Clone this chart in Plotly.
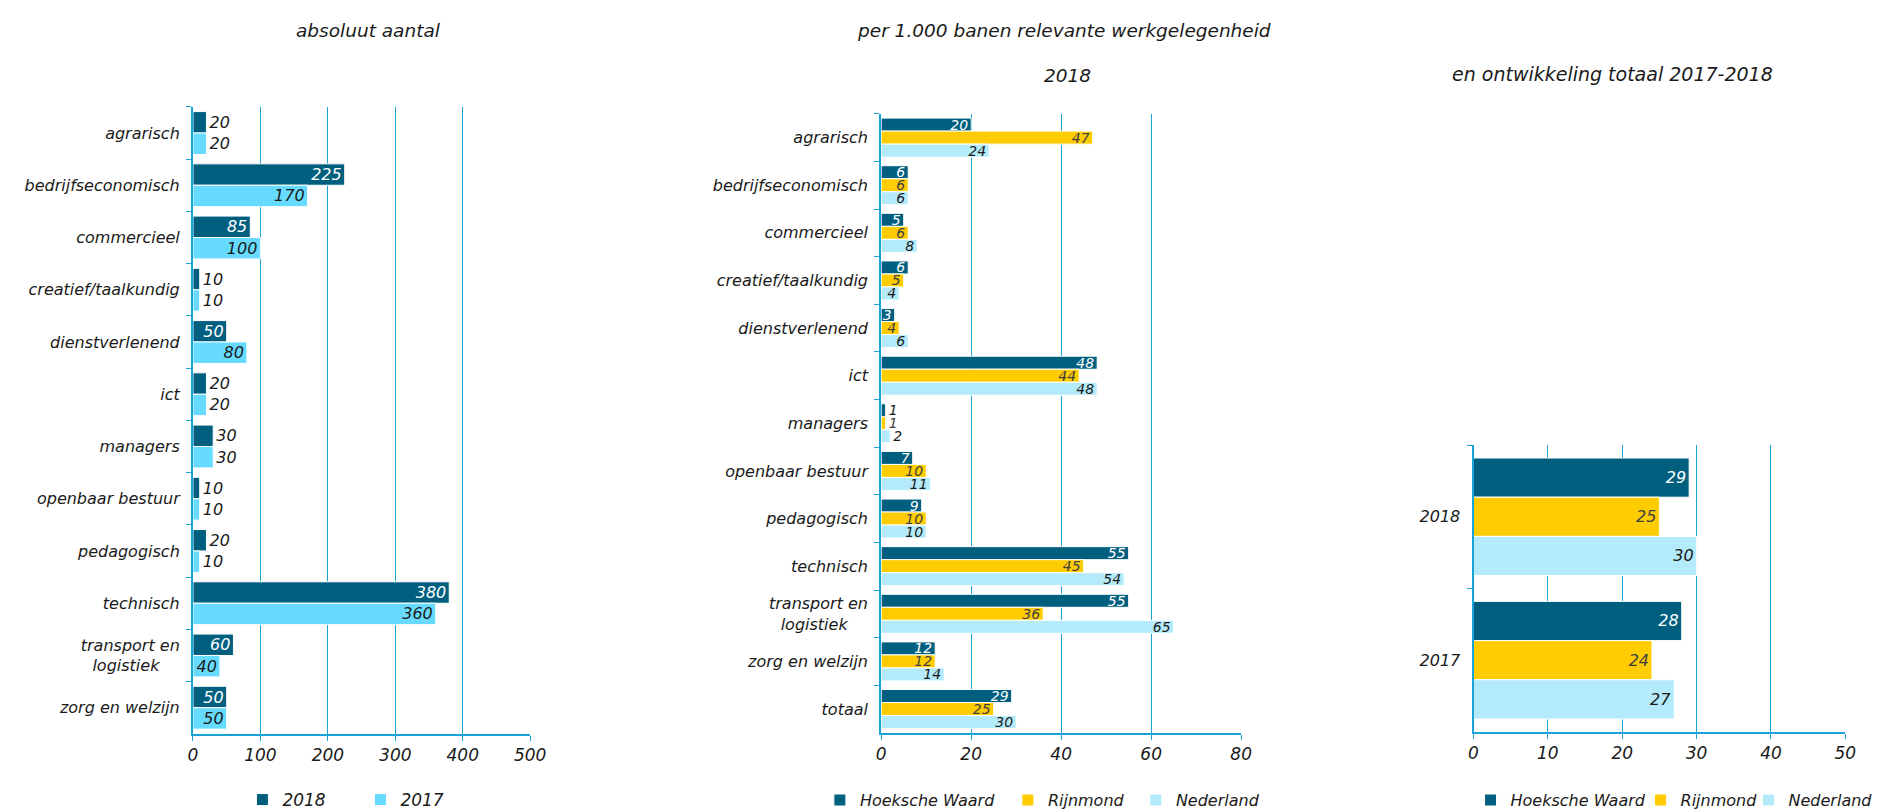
import plotly.graph_objects as go

W, H = 1881, 810

# absolute numbers
abs_categories = ["agrarisch", "bedrijfseconomisch", "commercieel", "creatief/taalkundig",
                  "dienstverlenend", "ict", "managers", "openbaar bestuur", "pedagogisch",
                  "technisch", "transport en<br>logistiek\u00a0\u00a0\u00a0\u00a0", "zorg en welzijn"]
abs_2018 = [20, 225, 85, 10, 50, 20, 30, 10, 20, 380, 60, 50]
abs_2017 = [20, 170, 100, 10, 80, 20, 30, 10, 10, 360, 40, 50]

# per 1.000 jobs, 2018
rel_categories = ["agrarisch", "bedrijfseconomisch", "commercieel", "creatief/taalkundig",
                  "dienstverlenend", "ict", "managers", "openbaar bestuur", "pedagogisch",
                  "technisch", "transport en<br>logistiek\u00a0\u00a0\u00a0\u00a0", "zorg en welzijn", "totaal"]
rel_hw = [20, 6, 5, 6, 3, 48, 1, 7, 9, 55, 55, 12, 29]
rel_rijnmond = [47, 6, 6, 5, 4, 44, 1, 10, 10, 45, 36, 12, 25]
rel_nl = [24, 6, 8, 4, 6, 48, 2, 11, 10, 54, 65, 14, 30]

# totals over time
tot_years = ["2018", "2017"]
tot_hw = [29, 28]
tot_rijnmond = [25, 24]
tot_nl = [30, 27]

DARK = "#005F7F"
CYAN = "#66DAFF"
YELLOW = "#FFCC00"
PALE = "#B4EBFA"
AXIS = "#1AA3D6"
FONT = "DejaVu Sans"


def px_x(a, b):
    return [a / W, b / W]


def px_y(top, bottom):
    return [(H - bottom) / H, (H - top) / H]


def bar(x, y, name, color, xa, ya, legend, in_col, out_col, lw=None, size=16):
    return go.Bar(
        x=x, y=y, name=name, orientation="h", xaxis=xa, yaxis=ya,
        marker=dict(color=color, line=dict(color="white", width=1)),
        text=[str(v) for v in x], textposition="auto", textangle=0,
        constraintext="none", cliponaxis=False,
        insidetextfont=dict(family=FONT, size=size, color=in_col, style="italic"),
        outsidetextfont=dict(family=FONT, size=size, color=out_col, style="italic"),
        legend=legend, legendwidth=lw, hoverinfo="skip",
    )


fig = go.Figure()
fig.add_trace(bar(abs_2018, abs_categories, "2018", DARK, "x", "y", "legend", "white", "#1a1a1a", 73))
fig.add_trace(bar(abs_2017, abs_categories, "2017", CYAN, "x", "y", "legend", "#1a1a1a", "#1a1a1a", 73))

# smaller labels in the dense middle panel
fig.add_trace(bar(rel_hw, rel_categories, "Hoeksche Waard", DARK, "x2", "y2", "legend2", "white", "#1a1a1a", 143, 14))
fig.add_trace(bar(rel_rijnmond, rel_categories, "Rijnmond", YELLOW, "x2", "y2", "legend2", "#404040", "#404040", 83, 14))
fig.add_trace(bar(rel_nl, rel_categories, "Nederland", PALE, "x2", "y2", "legend2", "#1a1a1a", "#1a1a1a", 80, 14))

fig.add_trace(bar(tot_hw, tot_years, "Hoeksche Waard", DARK, "x3", "y3", "legend3", "white", "#1a1a1a", 125))
fig.add_trace(bar(tot_rijnmond, tot_years, "Rijnmond", YELLOW, "x3", "y3", "legend3", "#404040", "#404040", 63))
fig.add_trace(bar(tot_nl, tot_years, "Nederland", PALE, "x3", "y3", "legend3", "#1a1a1a", "#1a1a1a", 80))


def xaxis(domain, rng, dtick, anchor):
    return dict(domain=domain, range=rng, dtick=dtick, anchor=anchor,
                showgrid=True, gridcolor=AXIS, gridwidth=1,
                showline=True, linecolor=AXIS, linewidth=2,
                ticks="outside", ticklen=5, tickcolor=AXIS,
                zeroline=False, fixedrange=True,
                tickfont=dict(family=FONT, size=17, color="#1a1a1a", style="italic"))


def yaxis(domain, anchor):
    return dict(domain=domain, anchor=anchor, autorange="reversed", type="category",
                showline=True, linecolor=AXIS, linewidth=2,
                ticks="outside", ticklen=5, tickcolor=AXIS, tickson="boundaries",
                showgrid=False, fixedrange=True, ticklabelstandoff=8,
                tickfont=dict(family=FONT, size=16, color="#1a1a1a", style="italic"))


def legend(x0, size):
    return dict(orientation="h", x=x0 / W, xanchor="left", y=(H - 801) / H, yanchor="middle",
                font=dict(family=FONT, size=size, color="#1a1a1a", style="italic"),
                itemwidth=30, bgcolor="rgba(0,0,0,0)")


def title(text, x, y, size):
    return dict(text=text, x=x / W, y=(H - y) / H, xref="paper", yref="paper",
                showarrow=False, xanchor="center", yanchor="middle",
                font=dict(family=FONT, size=size, color="#1a1a1a", style="italic"))


fig.update_layout(
    width=W, height=H,
    margin=dict(l=0, r=0, t=0, b=0),
    paper_bgcolor="white", plot_bgcolor="white",
    barmode="group",
    bargap=0.18,
    xaxis=xaxis(px_x(182, 523), [0, 500], 100, "y"),
    yaxis=yaxis(px_y(100, 734), "x"),
    xaxis2=xaxis(px_x(878, 1242), [0, 80], 20, "y2"),
    yaxis2=yaxis(px_y(107, 733), "x2"),
    xaxis3=xaxis(px_x(1477, 1853), [0, 50], 10, "y3"),
    yaxis3=yaxis(px_y(442, 732), "x3"),
    legend=legend(232, 17),
    legend2=legend(816, 16),
    legend3=legend(1474, 16),
    annotations=[
        title("absoluut aantal", 360, 23, 18.5),
        title("per 1.000 banen relevante werkgelegenheid", 1063, 23, 18.5),
        title("2018", 1066, 68, 18.5),
        title("en ontwikkeling totaal 2017-2018", 1618, 67, 19),
    ],
)

fig.write_html("out.html")
